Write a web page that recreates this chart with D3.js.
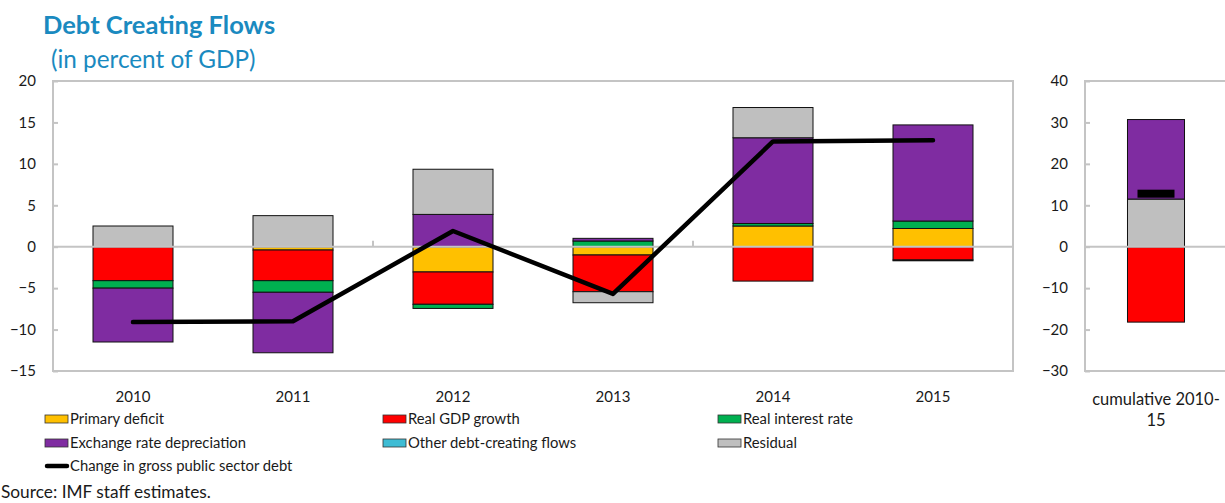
<!DOCTYPE html>
<html>
<head>
<meta charset="utf-8">
<script src="https://cdn.jsdelivr.net/npm/d3@7"></script>
<style>
  html, body { margin: 0; padding: 0; background: #fff; }
  svg { display: block; font-family: Lato, "Open Sans", sans-serif; }
</style>
</head>
<body>
<svg id="chart" width="1225" height="503"></svg>
<script>
// ---- data (percent of GDP) ----
const years = ["2010", "2011", "2012", "2013", "2014", "2015"];
const primaryDeficit   = [0.0, -0.4, -3.05, -1.0, 2.5, 2.2];
const realGdpGrowth    = [-4.1, -3.7, -3.9, -4.43, -4.15, -1.6];
const realInterestRate = [-0.9, -1.4, -0.5, 0.69, 0.3, 0.9];
const exchangeRateDep  = [-6.5, -7.3, 3.9, 0.32, 10.35, 11.6];
const otherFlows       = [0, 0, 0, 0, 0, 0];
const residual         = [2.5, 3.75, 5.45, -1.33, 3.65, -0.1];
const debtChange       = [-9.1, -9.0, 1.9, -5.7, 12.7, 12.85];

const cumulativeLabel = ["cumulative 2010-", "15"];
const cumPrimaryDeficit = 0;
const cumRealGdpGrowth = -18.2;
const cumRealInterestRate = 0;
const cumResidual = 11.5;
const cumExchangeRateDep = 19.2;
const cumOtherFlows = 0;
const cumDebtChange = 12.8;

const leftTicks = [-15, -10, -5, 0, 5, 10, 15, 20];
const rightTicks = [-30, -20, -10, 0, 10, 20, 30, 40];

const seriesNames = {
  primary: "Primary deficit",
  growth: "Real GDP growth",
  interest: "Real interest rate",
  exchange: "Exchange rate depreciation",
  other: "Other debt-creating flows",
  residual: "Residual",
  debt: "Change in gross public sector debt"
};
const colors = {
  primary: "#FFC000",
  growth: "#FF0000",
  interest: "#00B050",
  exchange: "#7F2CA1",
  other: "#3EBCD4",
  residual: "#BFBFBF"
};

const svg = d3.select("#chart");
const gridGray = "#C4C4C4";
const textColor = "#1a1a1a";

// ---- title ----
svg.append("text").attr("x", 43).attr("y", 34)
  .attr("font-size", 25.5).attr("font-weight", 700).attr("fill", "#1A8AC0")
  .text("Debt Creating Flows");
svg.append("text").attr("x", 51).attr("y", 68)
  .attr("font-size", 24.3).attr("fill", "#1A8AC0")
  .text("(in percent of GDP)");

// ---- main panel ----
const L = { left: 53, right: 1013, top: 81, bottom: 371 };
const x = d3.scaleBand().domain(years).range([L.left, L.right])
  .paddingInner(0.5).paddingOuter(0.25);
const y = d3.scaleLinear().domain([-15, 20]).range([L.bottom, L.top]);

const keys = ["primary", "growth", "interest", "exchange", "other", "residual"];
const rows = years.map((yr, i) => ({
  year: yr,
  primary: primaryDeficit[i],
  growth: realGdpGrowth[i],
  interest: realInterestRate[i],
  exchange: exchangeRateDep[i],
  other: otherFlows[i],
  residual: residual[i]
}));
const stacked = d3.stack().keys(keys).offset(d3.stackOffsetDiverging)(rows);

const main = svg.append("g");
// frame
main.append("rect").attr("x", L.left).attr("y", L.top)
  .attr("width", L.right - L.left).attr("height", L.bottom - L.top)
  .attr("fill", "none").attr("stroke", gridGray).attr("stroke-width", 2);

// y axis
const yAxis = d3.axisLeft(y).tickValues(leftTicks).tickSize(-5).tickPadding(17)
  .tickFormat(d3.format("d"));
const gy = main.append("g").attr("transform", `translate(${L.left},0)`).call(yAxis);
gy.select(".domain").remove();
gy.selectAll(".tick line").attr("stroke", gridGray).attr("stroke-width", 2);
gy.selectAll(".tick text").attr("font-size", 15).attr("fill", textColor)
  .attr("font-family", "Lato, sans-serif");

// bars
main.append("g").selectAll("g").data(stacked).join("g")
  .attr("fill", d => colors[d.key])
  .selectAll("rect").data(d => d.filter(s => Math.abs(s[1] - s[0]) > 1e-9)).join("rect")
  .attr("x", d => x(d.data.year))
  .attr("width", x.bandwidth())
  .attr("y", d => y(Math.max(d[0], d[1])))
  .attr("height", d => Math.abs(y(d[0]) - y(d[1])))
  .attr("stroke", "#111").attr("stroke-width", 1);

// zero line with category tick marks every two categories
main.append("line").attr("x1", L.left).attr("x2", L.right)
  .attr("y1", y(0)).attr("y2", y(0))
  .attr("stroke", gridGray).attr("stroke-width", 2);
const boundaries = [2, 4].map(i => x.range()[0] + i * x.step());
main.append("g").selectAll("line").data(boundaries).join("line")
  .attr("x1", d => d).attr("x2", d => d)
  .attr("y1", y(0)).attr("y2", y(0) - 6)
  .attr("stroke", gridGray).attr("stroke-width", 2);

// category labels
main.append("g").selectAll("text").data(years).join("text")
  .attr("x", d => x(d) + x.bandwidth() / 2).attr("y", 402)
  .attr("text-anchor", "middle").attr("font-size", 15).attr("fill", textColor)
  .text(d => d);

// debt change line
const line = d3.line()
  .x((d, i) => x(years[i]) + x.bandwidth() / 2)
  .y(d => y(d));
main.append("path").datum(debtChange).attr("d", line)
  .attr("fill", "none").attr("stroke", "#000").attr("stroke-width", 4.5)
  .attr("stroke-linejoin", "round").attr("stroke-linecap", "round");

// ---- cumulative panel ----
const R = { left: 1085, right: 1227, top: 81, bottom: 371 };
const cumCat = ["cumulative"];
const xr = d3.scaleBand().domain(cumCat).range([R.left, R.right])
  .paddingInner(0.427).paddingOuter(0.427);
const yr = d3.scaleLinear().domain([-30, 40]).range([R.bottom, R.top]);

const cumKeys = ["primary", "growth", "interest", "residual", "exchange", "other"];
const cumRows = [{
  cat: "cumulative",
  primary: cumPrimaryDeficit,
  growth: cumRealGdpGrowth,
  interest: cumRealInterestRate,
  residual: cumResidual,
  exchange: cumExchangeRateDep,
  other: cumOtherFlows
}];
const cumStacked = d3.stack().keys(cumKeys).offset(d3.stackOffsetDiverging)(cumRows);

const side = svg.append("g");
side.append("rect").attr("x", R.left).attr("y", R.top)
  .attr("width", R.right - R.left).attr("height", R.bottom - R.top)
  .attr("fill", "none").attr("stroke", gridGray).attr("stroke-width", 2);

const yrAxis = d3.axisLeft(yr).tickValues(rightTicks).tickSize(-5).tickPadding(17)
  .tickFormat(d3.format("d"));
const gyr = side.append("g").attr("transform", `translate(${R.left},0)`).call(yrAxis);
gyr.select(".domain").remove();
gyr.selectAll(".tick line").attr("stroke", gridGray).attr("stroke-width", 2);
gyr.selectAll(".tick text").attr("font-size", 15).attr("fill", textColor)
  .attr("font-family", "Lato, sans-serif");

side.append("g").selectAll("g").data(cumStacked).join("g")
  .attr("fill", d => colors[d.key])
  .selectAll("rect").data(d => d.filter(s => Math.abs(s[1] - s[0]) > 1e-9)).join("rect")
  .attr("x", d => xr(d.data.cat))
  .attr("width", xr.bandwidth())
  .attr("y", d => yr(Math.max(d[0], d[1])))
  .attr("height", d => Math.abs(yr(d[0]) - yr(d[1])))
  .attr("stroke", "#111").attr("stroke-width", 1);

side.append("line").attr("x1", R.left).attr("x2", R.right)
  .attr("y1", yr(0)).attr("y2", yr(0))
  .attr("stroke", gridGray).attr("stroke-width", 2);

// single-point debt change shown as a dash marker
const markW = 37, markH = 8;
side.append("rect")
  .attr("x", xr("cumulative") + xr.bandwidth() / 2 - markW / 2)
  .attr("y", yr(cumDebtChange) - markH / 2)
  .attr("width", markW).attr("height", markH).attr("fill", "#000");

side.append("text").attr("text-anchor", "middle").attr("font-size", 16.5).attr("fill", textColor)
  .selectAll("tspan").data(cumulativeLabel).join("tspan")
  .attr("x", xr("cumulative") + xr.bandwidth() / 2)
  .attr("y", (d, i) => 405 + i * 21)
  .text(d => d);

// ---- legend ----
const legendItems = [
  { key: "primary", col: 0, row: 0 },
  { key: "growth", col: 1, row: 0 },
  { key: "interest", col: 2, row: 0 },
  { key: "exchange", col: 0, row: 1 },
  { key: "other", col: 1, row: 1 },
  { key: "residual", col: 2, row: 1 },
  { key: "debt", col: 0, row: 2 }
];
const colX = [45, 383, 718];
const rowY = [419, 443, 466];
const lg = svg.append("g");
legendItems.forEach(it => {
  const gx = colX[it.col], gyp = rowY[it.row];
  if (it.key === "debt") {
    lg.append("line").attr("x1", gx + 2).attr("x2", gx + 22)
      .attr("y1", gyp).attr("y2", gyp)
      .attr("stroke", "#000").attr("stroke-width", 4.5).attr("stroke-linecap", "round");
  } else {
    lg.append("rect").attr("x", gx).attr("y", gyp - 4).attr("width", 23).attr("height", 8)
      .attr("fill", colors[it.key]).attr("stroke", "#333").attr("stroke-width", 0.8);
  }
  lg.append("text").attr("x", gx + 25).attr("y", gyp + 5)
    .attr("font-size", 14.8).attr("fill", textColor)
    .text(seriesNames[it.key]);
});

// source note
svg.append("text").attr("x", 1).attr("y", 498)
  .attr("font-size", 17.3).attr("fill", textColor)
  .text("Source: IMF staff estimates.");
</script>
</body>
</html>
